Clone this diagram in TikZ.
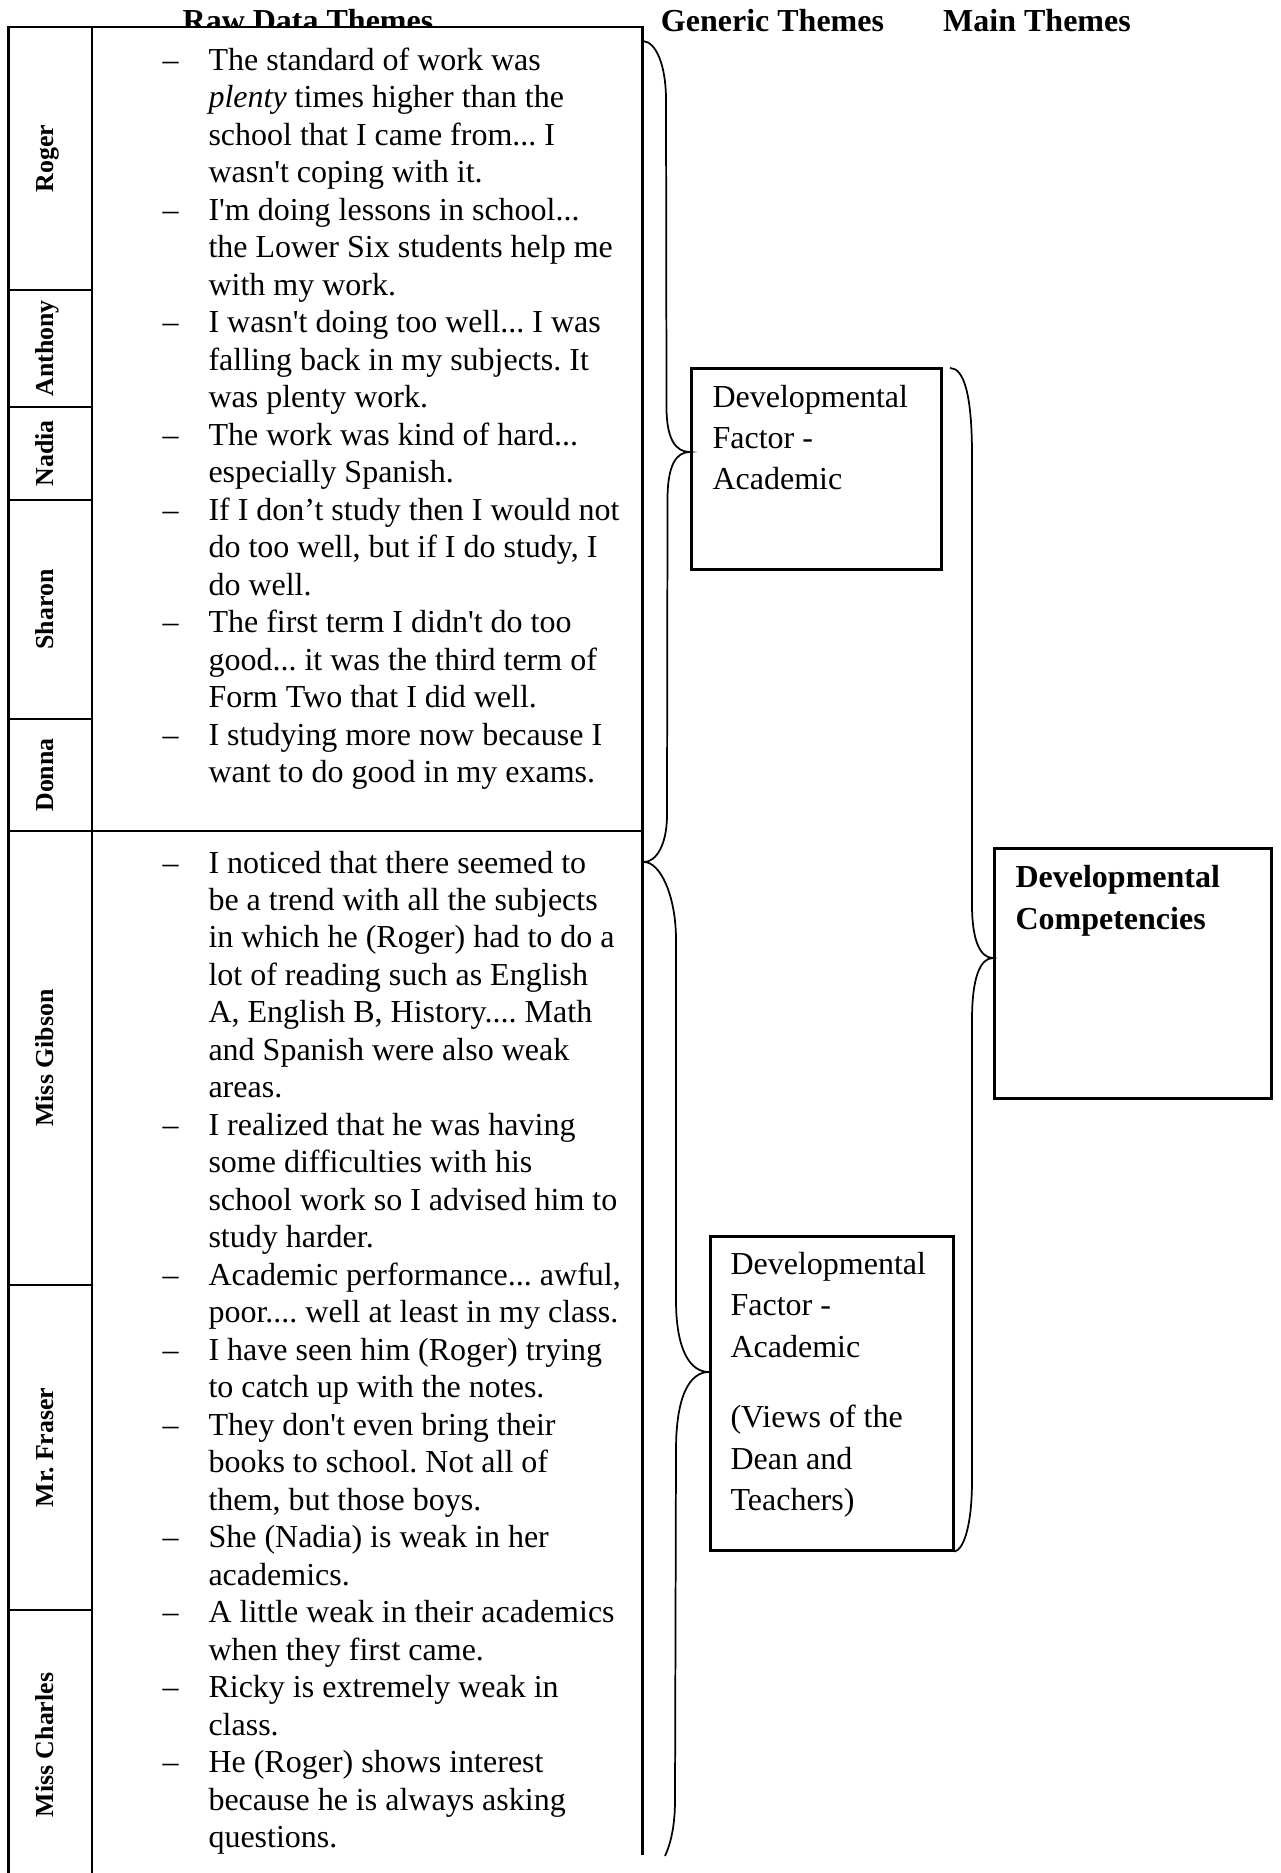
\documentclass[tikz,border=0pt]{standalone}
\usepackage{fontspec}
\setmainfont{Liberation Serif}[Ligatures=TeXOff]
\newcommand{\qd}{\makebox[17.25pt][l]{–}}
\frenchspacing
\begin{document}
\begin{tikzpicture}[x=0.375pt,y=-0.375pt,
  rule/.style={line width=0.9pt},
  box/.style={draw,line width=1pt,inner sep=0pt,anchor=north west},
  brace/.style={line width=0.65pt},
  head/.style={font=\fontsize{12}{14}\selectfont\bfseries,anchor=base,inner sep=0pt},
  who/.style={font=\fontsize{9.7}{11}\selectfont\bfseries,rotate=90,anchor=base,inner sep=0pt},
  quotes/.style={font=\fontsize{12}{14.06}\selectfont,anchor=base west,inner sep=0pt},
  theme/.style={font=\fontsize{12}{15.56}\selectfont,anchor=base west,inner sep=0pt},
  maintheme/.style={font=\fontsize{12}{16}\selectfont\bfseries,anchor=base west,inner sep=0pt},
]
\useasboundingbox (0,0) rectangle (1280,1873);

% column headings
\node[head] (hRaw)  at (308,32)   {Raw Data Themes};
\node[head] (hGen)  at (772.5,32) {Generic Themes};
\node[head] (hMain) at (1037,32)  {Main Themes};

% raw data table
\fill[white] (8.5,27) rectangle (642.5,1873);
\draw[rule] (8.5,1873) -- (8.5,27) -- (642.5,27) -- (642.5,1855);
\draw[rule] (92,27) -- (92,1873);
\draw[rule] (8.5,831) -- (642.5,831);
\foreach \yy in {290,407,500,719,1285,1610}
  \draw[rule] (8.5,\yy) -- (92,\yy);

% participants
\node[who] (nRoger)   at (53,158.5) {Roger};
\node[who] (nAnthony) at (53,348.5) {Anthony};
\node[who] (nNadia)   at (53,453.5) {Nadia};
\node[who] (nSharon)  at (53,609.5) {Sharon};
\node[who] (nDonna)   at (53,775)   {Donna};
\node[who] (nGibson)  at (53,1058)  {Miss Gibson};
\node[who] (nFraser)  at (53,1447.5){Mr. Fraser};
\node[who] (nCharles) at (53,1745)  {Miss Charles};

% quotations from the students
\node[quotes] (qStudents) at (162,70.5) {\begin{tabular}[t]{@{}l@{}l@{}}
\qd & The standard of work was\\
 & \textit{plenty} times higher than the\\
 & school that I came from... I\\
 & wasn't coping with it.\\
\qd & I'm doing lessons in school...\\
 & the Lower Six students help me\\
 & with my work.\\
\qd & I wasn't doing too well... I was\\
 & falling back in my subjects. It\\
 & was plenty work.\\
\qd & The work was kind of hard...\\
 & especially Spanish.\\
\qd & If I don’t study then I would not\\
 & do too well, but if I do study, I\\
 & do well.\\
\qd & The first term I didn't do too\\
 & good... it was the third term of\\
 & Form Two that I did well.\\
\qd & I studying more now because I\\
 & want to do good in my exams.
\end{tabular}};

% quotations from the dean and teachers
\node[quotes] (qStaff) at (162,873) {\begin{tabular}[t]{@{}l@{}l@{}}
\qd & I noticed that there seemed to\\
 & be a trend with all the subjects\\
 & in which he (Roger) had to do a\\
 & lot of reading such as English\\
 & A, English B, History.... Math\\
 & and Spanish were also weak\\
 & areas.\\
\qd & I realized that he was having\\
 & some difficulties with his\\
 & school work so I advised him to\\
 & study harder.\\
\qd & Academic performance... awful,\\
 & poor.... well at least in my class.\\
\qd & I have seen him (Roger) trying\\
 & to catch up with the notes.\\
\qd & They don't even bring their\\
 & books to school. Not all of\\
 & them, but those boys.\\
\qd & She (Nadia) is weak in her\\
 & academics.\\
\qd & A little weak in their academics\\
 & when they first came.\\
\qd & Ricky is extremely weak in\\
 & class.\\
\qd & He (Roger) shows interest\\
 & because he is always asking\\
 & questions.
\end{tabular}};

% generic and main theme boxes
\node[box,minimum width=93.75pt,minimum height=75.4pt]  (gen1) at (690,367) {};
\node[box,minimum width=91.1pt,minimum height=117.75pt] (gen2) at (709,1235) {};
\node[box,minimum width=103.9pt,minimum height=93.75pt] (mainbox) at (993,847) {};

\node[theme] (gen1txt) at (712,407) {\begin{tabular}[t]{@{}l@{}}
Developmental\\Factor -\\Academic\end{tabular}};
\node[theme] (gen2txt) at (730,1274) {\begin{tabular}[t]{@{}l@{}}
Developmental\\Factor -\\Academic\\[11pt]
(Views of the\\Dean and\\Teachers)\end{tabular}};
\node[maintheme] (maintxt) at (1015,887) {\begin{tabular}[t]{@{}l@{}}
Developmental\\Competencies\end{tabular}};

% brace end points and tips
\coordinate (b1top) at (643,41);
\coordinate (split) at (644,862);
\coordinate (tip1)  at (690,452);
\coordinate (tip2)  at (709,1372);
\coordinate (b2end) at (665,1856);
\coordinate (mtop)  at (950,368);
\coordinate (mtip)  at (993,958);
\coordinate (mend)  at (gen2.south east);

% brace: student quotations -> generic theme 1
\draw[brace] (b1top) .. controls (656,42) and (666,65) .. (666,100)
  -- (666.5,407) .. controls (666.5,440) and (676,452) .. (tip1)
  .. controls (676,452) and (667.5,465) .. (667.5,500)
  -- (667,815) .. controls (667,845) and (656,862) .. (split);

% brace: staff quotations -> generic theme 2
\draw[brace] (split) .. controls (660,862) and (676,895) .. (676,940)
  -- (676,1300) .. controls (676,1350) and (690,1372) .. (tip2)
  .. controls (690,1372) and (676,1395) .. (676,1450)
  -- (675,1800) .. controls (675,1825) and (671,1843) .. (b2end);

% brace: generic themes -> main theme
\draw[brace] (mtop) .. controls (964,368) and (972,395) .. (972,455)
  -- (972,905) .. controls (972,940) and (980,958) .. (mtip)
  .. controls (980,958) and (972,978) .. (972,1020)
  -- (972,1480) .. controls (972,1525) and (964,1549) .. (mend);
\end{tikzpicture}
\end{document}
